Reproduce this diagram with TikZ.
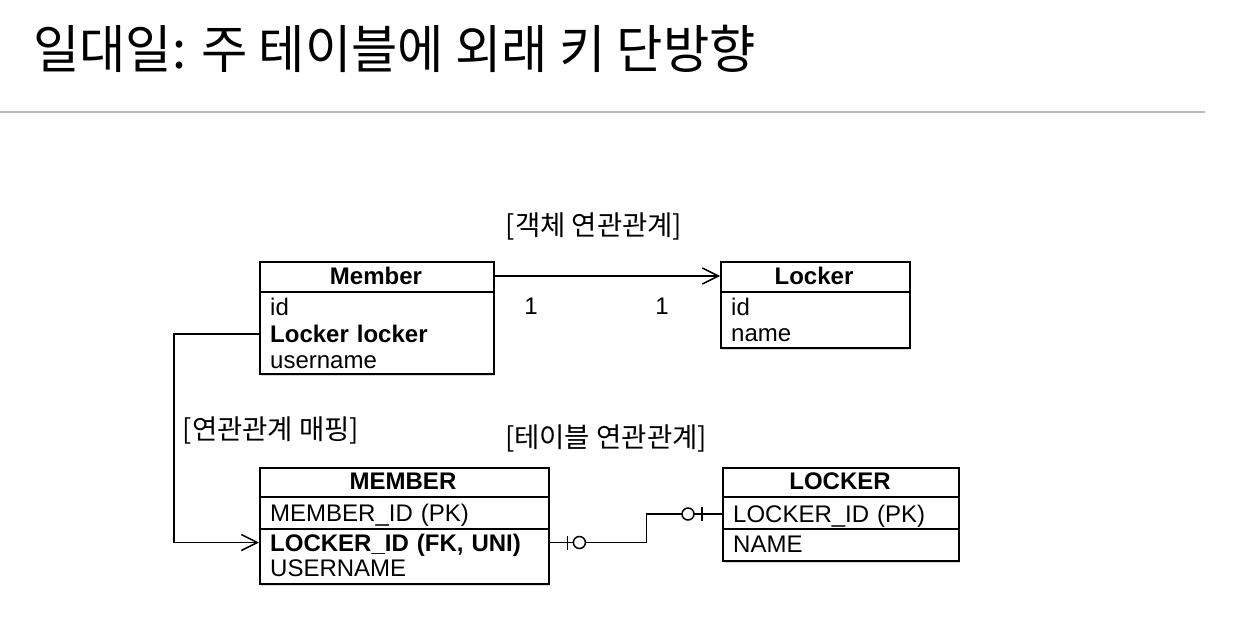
\documentclass[tikz,border=0pt]{standalone}
\usepackage{fontspec}
\setmainfont{Liberation Sans}
\newfontfamily\kr{Noto Sans CJK KR}
\usetikzlibrary{arrows.meta,shadows,calc}
\begin{document}
\begin{tikzpicture}[x=1pt,y=-1pt,
 tbl/.style={draw, line width=1.6pt, fill=white, inner sep=0pt,
   drop shadow={shadow xshift=1.5pt,shadow yshift=-2.5pt,opacity=0.3}},
 hdr/.style={font=\fontsize{24}{28}\selectfont\bfseries, inner sep=0pt, text height=17pt, text depth=0pt},
 row/.style={anchor=west, font=\fontsize{24}{28}\selectfont, inner xsep=11pt, inner ysep=0pt,
   align=left, text height=17pt, text depth=0pt},
 keyrow/.style={row, font=\fontsize{24}{28}\selectfont\bfseries},
 num/.style={font=\fontsize{24}{28}\selectfont, inner sep=0pt},
 lbl/.style={font=\kr\fontsize{27.5}{32}\selectfont, inner sep=0pt},
 conn/.style={line width=1.5pt},
 tip/.style={-{Straight Barb[length=16pt,width=16pt,line width=1.5pt]}}
]
\useasboundingbox (0,0) rectangle (1238,640);
\fill[white] (0,0) rectangle (1238,640);

% title
\node[anchor=west, inner sep=0pt, font=\kr\fontsize{52}{60}\selectfont] (title) at (33,49)
  {\scalebox{0.968}[1]{일대일: 주 테이블에 외래 키 단방향}};
\draw[gray!55, line width=1.5pt] (0,112) -- (1205,112);

% labels
\node[lbl] (objlbl) at (594,226) {[객체 연관관계]};
\node[lbl] (maplbl) at (271,430) {[연관관계 매핑]};
\node[lbl] (tbllbl) at (606,438) {[테이블 연관관계]};

% Member
\node[tbl, anchor=north west, minimum width=234pt, minimum height=112pt] (member) at (259,261) {};
\draw[line width=1.6pt] ([yshift=-31pt]member.north west) -- ([yshift=-31pt]member.north east);
\node[hdr] (memberH) at (376,276) {Member};
\node[row, text width=212pt] (mId) at (259,307) {id};
\node[keyrow, text width=212pt] (mLocker) at (259,334) {Locker locker};
\node[row, text width=212pt] (mUser) at (259,359.5) {username};

% Locker
\node[tbl, anchor=north west, minimum width=189pt, minimum height=86pt] (locker) at (720,261) {};
\draw[line width=1.6pt] ([yshift=-31pt]locker.north west) -- ([yshift=-31pt]locker.north east);
\node[hdr] (lockerH) at (814,276) {Locker};
\node[row, text width=167pt] (lId) at (720,307) {id};
\node[row, text width=167pt] (lName) at (720,332.5) {name};

% MEMBER table
\node[tbl, anchor=north west, minimum width=289pt, minimum height=116pt] (tmember) at (259,467) {};
\draw[line width=1.6pt] ([yshift=-30pt]tmember.north west) -- ([yshift=-30pt]tmember.north east);
\draw[line width=1.6pt] ([yshift=-62pt]tmember.north west) -- ([yshift=-62pt]tmember.north east);
\node[hdr] (tmemberH) at (403,481) {MEMBER};
\node[row, text width=267pt] (tMid) at (259,512.5) {MEMBER\_ID (PK)};
\node[keyrow, text width=267pt] (tFK) at (259,542.5) {LOCKER\_ID (FK, UNI)};
\node[row, text width=267pt] (tUser) at (259,567.5) {USERNAME};

% LOCKER table
\node[tbl, anchor=north west, minimum width=236pt, minimum height=93pt] (tlocker) at (722,467) {};
\draw[line width=1.6pt] ([yshift=-30pt]tlocker.north west) -- ([yshift=-30pt]tlocker.north east);
\draw[line width=1.6pt] ([yshift=-62pt]tlocker.north west) -- ([yshift=-62pt]tlocker.north east);
\node[hdr] (tlockerH) at (840,481) {LOCKER};
\node[row, text width=214pt] (tLPK) at (722,514) {LOCKER\_ID (PK)};
\node[row, text width=214pt] (tLName) at (722,544) {NAME};

% object association
\draw[conn, tip] (memberH -| member.east) -- (lockerH -| locker.west);
\node[num] (one1) at (531,306) {1};
\node[num] (one2) at (662,306) {1};

% mapping connector
\draw[conn, tip] (mLocker -| member.west) -- ++(-85,0) |- (tFK -| tmember.west);

% table relation
\draw[conn] (tFK.east) -- ++(98,0) |- (tLPK.west);
\draw[conn] ($(tFK.east)+(19,-7)$) -- ++(0,14);
\draw[conn, fill=white] ($(tFK.east)+(31,0)$) circle [radius=6pt];
\draw[conn] ($(tLPK.west)+(-20,-7)$) -- ++(0,14);
\draw[conn, fill=white] ($(tLPK.west)+(-34,0)$) circle [radius=6pt];
\end{tikzpicture}
\end{document}
